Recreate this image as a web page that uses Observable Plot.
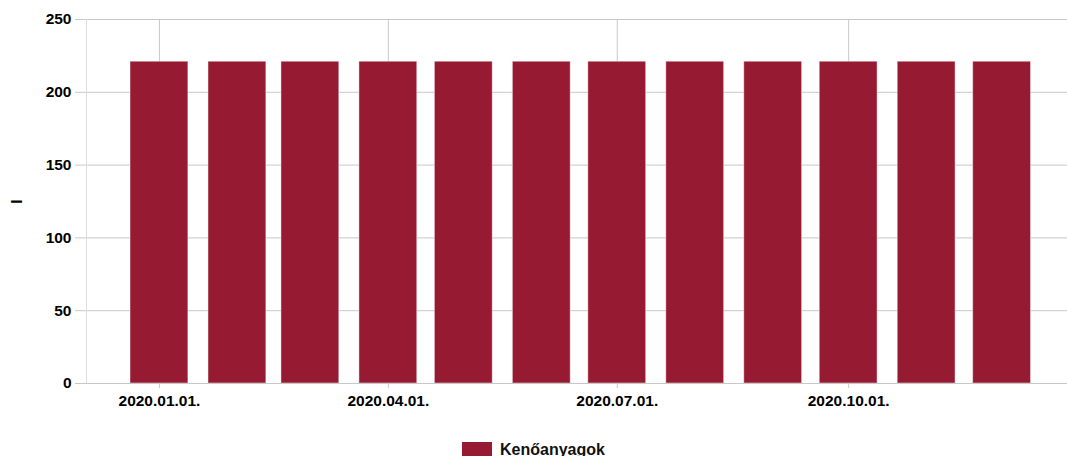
<!DOCTYPE html>
<html>
<head>
<meta charset="utf-8">
<script src="https://cdn.jsdelivr.net/npm/d3@7"></script>
<script src="https://cdn.jsdelivr.net/npm/@observablehq/plot@0.6"></script>
<style>
  html, body { margin: 0; padding: 0; background: #fff; }
  body { font-family: "Liberation Sans", Arial, sans-serif; width: 1067px; overflow: hidden; }
  #legend { display: flex; justify-content: center; align-items: center; margin-top: 16px; font-weight: bold; font-size: 16px; color: #111; }
  #legend .sw { width: 30px; height: 16px; background: #971a33; margin-right: 8px; }
</style>
</head>
<body>
<div id="chart"></div>
<div id="legend"><span class="sw"></span><span>Kenőanyagok</span></div>
<script>
const months = ["2020-01-01","2020-02-01","2020-03-01","2020-04-01","2020-05-01","2020-06-01","2020-07-01","2020-08-01","2020-09-01","2020-10-01","2020-11-01","2020-12-01"];
const values = [221, 221, 221, 221, 221, 221, 221, 221, 221, 221, 221, 221];
const xTicks = ["2020-01-01","2020-04-01","2020-07-01","2020-10-01"];
const yTicks = [0, 50, 100, 150, 200, 250];
const seriesName = "Kenőanyagok";
const yLabel = "l";

const data = months.map((m, i) => ({date: new Date(m + "T00:00:00Z"), value: values[i]}));
const halfBar = 11.5 * 86400000;
const fmt = d3.utcFormat("%Y.%m.%d.");

const chart = Plot.plot({
  width: 1067,
  height: 425,
  marginLeft: 86,
  marginRight: 0,
  marginTop: 19,
  marginBottom: 42,
  style: {fontFamily: "Liberation Sans, Arial, sans-serif", fontSize: "15.5px", fontWeight: "bold", color: "#000"},
  x: {type: "utc", domain: [new Date("2019-12-03T00:00:00Z"), new Date("2020-12-27T00:00:00Z")]},
  y: {domain: [0, 250]},
  marks: [
    Plot.gridY(yTicks, {stroke: "#c8c8c8", strokeOpacity: 1}),
    Plot.gridX(xTicks.map(t => new Date(t + "T00:00:00Z")), {stroke: "#c8c8c8", strokeOpacity: 1}),
    Plot.frame({anchor: "left", stroke: "#dcdcdc"}),
    Plot.axisY(yTicks, {tickSize: 11, stroke: "#c8c8c8", tickPadding: 4, fill: "#000", label: yLabel, labelAnchor: "center", labelArrow: "none", labelOffset: 76}),
    Plot.axisX(xTicks.map(t => new Date(t + "T00:00:00Z")), {tickSize: 5, stroke: "#c8c8c8", tickPadding: 6, fill: "#000", tickFormat: fmt, label: null}),
    Plot.rectY(data, {x1: d => new Date(+d.date - halfBar), x2: d => new Date(+d.date + halfBar), y: "value", fill: "#971a33", stroke: "#fff", strokeOpacity: 0.45, strokeWidth: 1, title: d => seriesName}),
    Plot.ruleY([0], {stroke: "#c8c8c8"})
  ]
});
document.getElementById("chart").appendChild(chart);
</script>
</body>
</html>
